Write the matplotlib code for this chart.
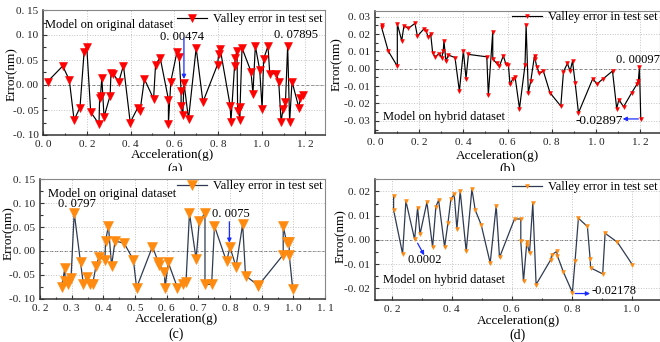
import matplotlib
matplotlib.use("Agg")
import matplotlib.pyplot as plt
from matplotlib.ticker import MultipleLocator, FuncFormatter
from matplotlib.transforms import Bbox, TransformedBbox

plt.rcParams["font.family"] = ["Liberation Serif", "DejaVu Serif"]

# (a) original dataset, first test
a_x = [0.020, 0.089, 0.119, 0.141, 0.168, 0.187, 0.199, 0.217, 0.255, 0.258, 0.262, 0.268, 0.278,
       0.306, 0.310, 0.318, 0.346, 0.367, 0.398, 0.433, 0.443, 0.463, 0.505, 0.514, 0.535, 0.573,
       0.573, 0.584, 0.612, 0.622, 0.631, 0.631, 0.639, 0.644, 0.665, 0.700, 0.731, 0.798, 0.803,
       0.810, 0.856, 0.859, 0.876, 0.879, 0.887, 0.890, 0.899, 0.899, 0.910, 0.951, 0.960, 0.971,
       0.991, 1.002, 1.009, 1.029, 1.037, 1.067, 1.078, 1.089, 1.098, 1.109, 1.119, 1.128, 1.139,
       1.170, 1.177, 1.188]
a_y = [0.007, 0.038, 0.010, -0.070, -0.045, 0.067, 0.076, -0.054, -0.078, -0.025, -0.021, 0.015,
       -0.064, -0.021, 0.025, 0.023, 0.007, 0.039, -0.075, -0.045, -0.052, 0.012, -0.028, 0.040,
       0.055, -0.029, -0.077, 0.007, 0.066, 0.057, -0.011, -0.042, -0.060, 0.00474, -0.068, 0.074,
       -0.034, 0.041, 0.062, 0.072, -0.042, -0.074, 0.039, 0.054, 0.069, -0.052, -0.044, -0.070,
       0.074, 0.027, -0.017, 0.078, 0.030, -0.047, 0.052, 0.078, 0.022, 0.023, 0.007, -0.074,
       -0.047, -0.034, 0.07895, -0.074, 0.007, -0.045, -0.025, -0.019]

# (b) hybrid dataset, first test
b_x = [0.030, 0.030, 0.060, 0.101, 0.101, 0.121, 0.131, 0.151, 0.181, 0.192, 0.222, 0.231, 0.242,
       0.252, 0.261, 0.272, 0.291, 0.302, 0.309, 0.312, 0.321, 0.332, 0.362, 0.382, 0.400, 0.412,
       0.423, 0.506, 0.513, 0.533, 0.533, 0.551, 0.563, 0.581, 0.593, 0.604, 0.611, 0.623, 0.634,
       0.654, 0.679, 0.684, 0.694, 0.705, 0.722, 0.725, 0.732, 0.744, 0.762, 0.792, 0.841, 0.853,
       0.871, 0.883, 0.894, 0.906, 0.921, 0.986, 1.004, 1.034, 1.075, 1.094, 1.104, 1.125, 1.162,
       1.185, 1.192, 1.197, 1.203]
b_y = [0.0254, 0.0238, 0.0102, 0.0015, 0.0258, 0.0162, 0.0248, 0.0233, 0.0262, 0.0188, 0.0231,
       0.0217, 0.0181, 0.0200, 0.0092, 0.0069, 0.0088, 0.0063, 0.0104, 0.0162, 0.0044, 0.0079,
       0.0065, -0.0129, 0.0104, -0.0056, 0.0083, 0.0069, -0.0152, 0.0213, 0.0056, 0.0031, 0.0015,
       0.0075, 0.0025, 0.0021, -0.0090, -0.0060, -0.0046, -0.0229, 0.0021, 0.0252, -0.0138,
       -0.0071, 0.0075, 0.0054, 0.0012, -0.0027, -0.0013, -0.0138, -0.0215, -0.0017, 0.0031,
       -0.0013, 0.0044, -0.0081, -0.0254, -0.0056, -0.0088, -0.0056, -0.0013, -0.0229, -0.0177,
       -0.0219, -0.0138, -0.0090, -0.0069, 0.00097, -0.02897]

# (c) original dataset, second test
c_x = [0.268, 0.279, 0.279, 0.289, 0.298, 0.308, 0.328, 0.337, 0.347, 0.358, 0.366, 0.377, 0.387,
       0.405, 0.407, 0.416, 0.426, 0.437, 0.466, 0.495, 0.505, 0.555, 0.574, 0.577, 0.593, 0.595,
       0.605, 0.634, 0.651, 0.661, 0.672, 0.693, 0.703, 0.721, 0.721, 0.742, 0.751, 0.789, 0.800,
       0.819, 0.840, 0.849, 0.887, 0.889, 0.968, 0.968, 0.979, 0.987, 0.987, 0.998]
c_y = [-0.075, -0.035, -0.063, -0.070, -0.057, 0.0797, -0.024, -0.070, -0.054, -0.070, -0.070,
       -0.031, -0.012, -0.019, 0.020, 0.053, -0.031, 0.021, 0.016, -0.019, -0.077, 0.009, -0.024,
       -0.029, -0.045, -0.078, -0.024, -0.077, -0.070, -0.066, 0.079, -0.017, 0.062, 0.079, -0.070,
       -0.070, 0.052, -0.022, 0.0075, -0.033, 0.056, -0.052, -0.071, -0.073, -0.008, 0.052, 0.018,
       0.018, -0.008, -0.079]

# (d) hybrid dataset, second test
d_x = [0.206, 0.206, 0.236, 0.247, 0.276, 0.286, 0.294, 0.317, 0.336, 0.347, 0.356, 0.376, 0.387,
       0.397, 0.408, 0.417, 0.428, 0.448, 0.467, 0.478, 0.498, 0.528, 0.548, 0.559, 0.609, 0.630,
       0.630, 0.639, 0.650, 0.652, 0.659, 0.670, 0.681, 0.730, 0.733, 0.750, 0.752, 0.772, 0.802,
       0.811, 0.822, 0.852, 0.861, 0.863, 0.903, 0.911, 0.952, 1.002]
d_y = [0.0182, 0.0123, -0.0058, 0.0160, 0.0002, 0.0133, 0.0023, 0.0155, -0.0030, 0.0137, 0.0164,
       -0.0030, 0.0068, 0.0168, 0.0188, 0.0045, 0.0201, -0.0048, 0.0210, 0.0123, 0.0062, -0.0096,
       0.0141, -0.0073, 0.0086, 0.0086, -0.0007, -0.0171, -0.0010, -0.0020, -0.0055, 0.0151,
       -0.0185, -0.0082, -0.0062, -0.0048, -0.0066, -0.0133, -0.02178, -0.0086, 0.0089, 0.0055,
       -0.0078, -0.0116, -0.0141, 0.0027, -0.0010, -0.0103]

series_label = "Valley error in test set"
W, H = 660, 342
ARROW = "#1a2cff"
FS = 9

fig = plt.figure(figsize=(W / 100, H / 100), dpi=100)


def px_axes(left, top, right, bottom):
    return fig.add_axes([left / W, 1 - bottom / H, (right - left) / W, (bottom - top) / H])


def spaced(fmt):
    return FuncFormatter(lambda v, pos: (fmt % v).replace(".", ". "))


def style_axes(ax, xlim, ylim, xmaj, ymaj, xlab_pos, ylab_pos):
    ax.set_xlim(*xlim)
    ax.set_ylim(*ylim)
    ax.xaxis.set_major_locator(MultipleLocator(xmaj))
    ax.xaxis.set_minor_locator(MultipleLocator(xmaj / 2))
    ax.yaxis.set_major_locator(MultipleLocator(ymaj))
    ax.yaxis.set_minor_locator(MultipleLocator(ymaj / 2))
    ax.xaxis.set_major_formatter(spaced("%.1f"))
    ax.yaxis.set_major_formatter(spaced("%.2f"))
    ax.tick_params(which="both", direction="in", top=False, right=False,
                   labelsize=8, labelcolor="#222222", color="#333333", width=0.8)
    ax.tick_params(which="major", length=3, pad=3.5)
    ax.tick_params(which="minor", length=1.8)
    ax.grid(which="major", color="#c4c4c4", linestyle=":", linewidth=0.7)
    ax.axhline(0, color="#777777", linestyle=(0, (3, 2)), linewidth=0.7, zorder=1)
    for side in ["left", "bottom"]:
        ax.spines[side].set_linewidth(1.1)
        ax.spines[side].set_color("#333333")
    for side in ["top", "right"]:
        ax.spines[side].set_linewidth(0.8)
        ax.spines[side].set_color("#888888")
    ax.set_xlabel("Acceleration(g)", fontsize=FS + 0.5)
    ax.set_ylabel("Error(nm)", fontsize=FS + 0.5)
    ax.xaxis.set_label_coords(*xlab_pos)
    ax.yaxis.set_label_coords(*ylab_pos)
    ax.xaxis.label.set_va("center")
    ax.yaxis.label.set_va("center")


def draw_series(ax, x, y, line_color, marker_color, ms, lw, anchor):
    ax.plot(x, y, color=line_color, linewidth=lw, marker="v", markersize=ms,
            markerfacecolor=marker_color, markeredgecolor=marker_color,
            markeredgewidth=0.4, label=series_label, zorder=3)
    ax.legend(loc="center left", bbox_to_anchor=anchor, frameon=False, fontsize=FS,
              handlelength=2.4, handletextpad=0.5, borderpad=0, borderaxespad=0,
              numpoints=1)


def arrow(ax, tail, head):
    ax.annotate("", xy=head, xytext=tail,
                arrowprops=dict(arrowstyle="-|>", color=ARROW, lw=0.9,
                                mutation_scale=6, shrinkA=0, shrinkB=0), zorder=4)


def panel_label(text, x, y, clip_top=None):
    t = fig.text(x / W, 1 - y / H, text, ha="center", va="center", fontsize=10)
    if clip_top is not None:
        box = Bbox.from_extents(0, 1 - clip_top / H, 1, 1)
        t.set_clip_box(TransformedBbox(box, fig.transFigure))
        t.set_clip_on(True)


# (a)
ax_a = px_axes(43.3, 10, 325, 135)
style_axes(ax_a, (0, 1.29), (-0.10, 0.15), 0.2, 0.05, (0.46, -0.16), (-0.11, 0.49))
draw_series(ax_a, a_x, a_y, "black", "#ff0000", 5.8, 0.85, (0.475, 0.928))
ax_a.text(0.008, 0.1206, "Model on original dataset", fontsize=FS, va="center")
ax_a.text(0.535, 0.097, "0. 00474", fontsize=FS, va="center")
ax_a.text(1.055, 0.1005, "0. 07895", fontsize=FS, va="center")
arrow(ax_a, (0.644, 0.094), (0.644, 0.012))

# (b)
ax_b = px_axes(375, 11, 660, 133)
style_axes(ax_b, (0, 1.29), (-0.037, 0.0333), 0.2, 0.01, (0.43, -0.19), (-0.135, 0.566))
draw_series(ax_b, b_x, b_y, "black", "#ff0000", 2.8, 0.85, (0.481, 0.951))
ax_b.text(0.038, -0.0277, "Model on hybrid dataset", fontsize=FS, va="center")
ax_b.text(1.091, 0.005, "0. 00097", fontsize=FS, va="center")
ax_b.text(0.906, -0.0300, "-0.02897", fontsize=FS + 0.5, va="center")
arrow(ax_b, (1.192, -0.0289), (1.121, -0.0289))

# (c)
ax_c = px_axes(40, 179.3, 325, 298.7)
style_axes(ax_c, (0.2, 1.1), (-0.10, 0.15), 0.1, 0.05, (0.48, -0.17), (-0.108, 0.55))
draw_series(ax_c, c_x, c_y, "#2f3b52", "#ff8a10", 6.5, 0.9, (0.481, 0.944))
ax_c.text(0.226, 0.12, "Model on original dataset", fontsize=FS, va="center")
ax_c.text(0.258, 0.0977, "0. 0797", fontsize=FS, va="center")
ax_c.text(0.742, 0.0768, "0. 0075", fontsize=FS, va="center")
arrow(ax_c, (0.798, 0.061), (0.798, 0.017))

# (d)
ax_d = px_axes(375, 179.3, 660, 300.3)
style_axes(ax_d, (0.144, 1.094), (-0.025, 0.025), 0.2, 0.01, (0.505, -0.175), (-0.12, 0.53))
ax_d.xaxis.set_minor_locator(MultipleLocator(0.1))
draw_series(ax_d, d_x, d_y, "#2f3b52", "#ff8a10", 2.8, 0.9, (0.481, 0.936))
ax_d.text(0.172, -0.0168, "Model on hybrid dataset", fontsize=FS, va="center")
ax_d.text(0.252, -0.0082, "0.0002", fontsize=FS, va="center")
ax_d.text(0.867, -0.0212, "-0.02178", fontsize=FS, va="center")
arrow(ax_d, (0.286, -0.0014), (0.308, -0.0064))
arrow(ax_d, (0.811, -0.0222), (0.861, -0.0222))

panel_label("(a)", 175, 169.5, clip_top=171)
panel_label("(b)", 507, 169.5, clip_top=171)
panel_label("(c)", 176, 334)
panel_label("(d)", 517, 335)

fig.savefig("out.png", dpi=100)
